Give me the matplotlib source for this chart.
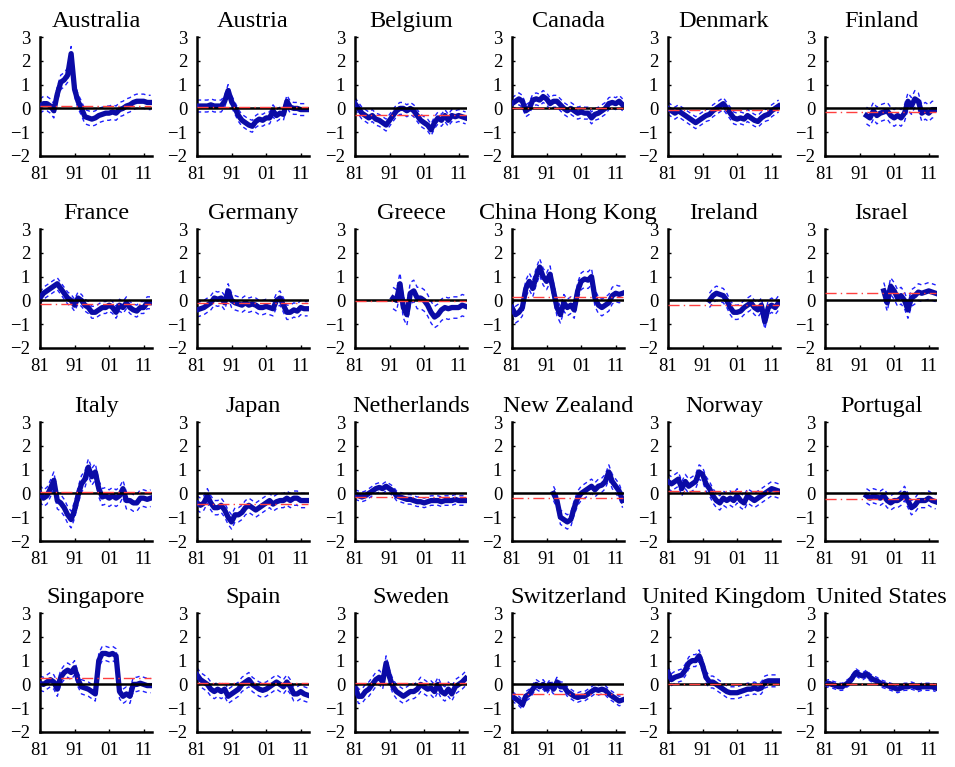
import matplotlib
matplotlib.use("Agg")
import matplotlib.pyplot as plt
import numpy as np

plt.rcParams["font.family"] = ["Liberation Serif", "DejaVu Serif"]
plt.rcParams["axes.unicode_minus"] = True

countries = [
    "Australia", "Austria", "Belgium", "Canada", "Denmark", "Finland",
    "France", "Germany", "Greece", "China Hong Kong", "Ireland", "Israel",
    "Italy", "Japan", "Netherlands", "New Zealand", "Norway", "Portugal",
    "Singapore", "Spain", "Sweden", "Switzerland", "United Kingdom", "United States",
]

# first year of each series (annual observations through 2013)
start_year = [
    1981, 1981, 1981, 1981, 1981, 1993,
    1981, 1981, 1992, 1981, 1993, 1998,
    1981, 1981, 1981, 1993, 1981, 1993,
    1981, 1981, 1981, 1981, 1981, 1981,
]

australia = [0.1, 0.2, 0.2, 0.1, -0.1, 0.6, 1.1, 1.2, 1.4, 2.3, 0.8, 0.3, 0.0, -0.35, -0.4, -0.45, -0.4,
             -0.3, -0.25, -0.2, -0.2, -0.15, -0.2, -0.05, 0.0, 0.1, 0.15, 0.25, 0.3, 0.3, 0.3, 0.25, 0.25]
austria = [0.1, 0.1, 0.1, 0.1, 0.15, 0.1, 0.1, 0.1, 0.3, 0.75, 0.3, 0.0, -0.3, -0.5, -0.6, -0.7, -0.75,
           -0.55, -0.45, -0.5, -0.4, -0.4, -0.1, -0.3, -0.2, -0.25, 0.3, 0.05, 0.0, 0.0, -0.05, -0.05, -0.05]
belgium = [0.2, 0.0, -0.2, -0.3, -0.4, -0.3, -0.45, -0.5, -0.6, -0.7, -0.5, -0.3, -0.1, 0.0, 0.0, -0.1, 0.0,
           -0.1, -0.3, -0.5, -0.6, -0.7, -0.9, -0.6, -0.4, -0.5, -0.3, -0.5, -0.3, -0.35, -0.3, -0.35, -0.4]
canada = [0.2, 0.3, 0.4, 0.3, -0.1, 0.0, 0.35, 0.4, 0.35, 0.5, 0.4, 0.2, 0.3, 0.3, 0.15, 0.0, -0.1,
          0.0, -0.1, -0.2, -0.15, -0.2, -0.2, -0.4, -0.25, -0.2, -0.1, 0.0, 0.2, 0.25, 0.2, 0.3, 0.15]
denmark = [0.0, -0.1, -0.2, -0.1, -0.2, -0.3, -0.4, -0.5, -0.6, -0.5, -0.4, -0.3, -0.25, -0.1, 0.0, 0.1, 0.2,
           0.0, -0.2, -0.4, -0.45, -0.4, -0.45, -0.3, -0.4, -0.5, -0.55, -0.4, -0.3, -0.25, -0.1, 0.0, 0.1]
finland = [-0.3, -0.4, -0.1, -0.3, -0.2, -0.15, -0.1, -0.3, -0.4, -0.3, -0.4, -0.2, 0.3, 0.1, 0.4, 0.3,
           -0.2, -0.1, -0.2, -0.05, -0.05]
france = [0.1, 0.3, 0.4, 0.5, 0.6, 0.7, 0.5, 0.3, 0.1, 0.0, -0.2, 0.1, 0.0, -0.2, -0.3, -0.5, -0.5,
          -0.4, -0.3, -0.3, -0.2, -0.3, -0.5, -0.2, -0.3, -0.1, -0.3, -0.4, -0.45, -0.3, -0.3, -0.1, -0.1]
germany = [-0.4, -0.35, -0.3, -0.2, -0.1, 0.1, 0.05, 0.1, -0.1, 0.4, 0.0, -0.1, -0.15, -0.2, -0.1, -0.2, -0.15,
           -0.2, -0.3, -0.3, -0.25, -0.3, -0.35, 0.0, 0.1, -0.2, -0.5, -0.5, -0.4, -0.45, -0.3, -0.35, -0.35]
greece = [0.1, 0.0, 0.7, -0.3, -0.6, 0.3, 0.4, 0.1, 0.1, 0.0, -0.2, -0.5, -0.7, -0.6, -0.4, -0.3,
          -0.35, -0.3, -0.3, -0.3, -0.2, -0.25]
hong_kong = [-0.3, -0.6, -0.5, -0.3, 0.5, 0.8, 0.5, 1.0, 1.4, 1.0, 0.8, 1.1, 0.4, -0.3, -0.6, -0.1, -0.3,
             -0.2, -0.4, 0.4, 0.8, 0.9, 0.85, 1.0, 0.1, -0.2, -0.3, -0.2, -0.1, 0.2, 0.3, 0.25, 0.3]
ireland = [0.0, 0.2, 0.3, 0.25, 0.2, 0.0, -0.3, -0.5, -0.5, -0.45, -0.3, -0.2, -0.1, -0.3, -0.4, -0.2,
           -0.9, -0.3, -0.2, -0.3, -0.1]
israel = [0.4, -0.1, 0.6, 0.4, 0.1, 0.2, 0.0, -0.4, 0.1, 0.2, 0.35, 0.3, 0.35, 0.4, 0.35, 0.3]
italy = [0.0, -0.2, -0.1, 0.2, 0.55, -0.3, -0.4, -0.6, -0.9, -1.1, -0.7, -0.1, 0.4, 0.6, 1.1, 0.7, 0.9,
         0.2, -0.15, -0.1, -0.2, -0.1, -0.2, -0.1, 0.2, -0.3, -0.3, -0.4, -0.4, -0.2, -0.2, -0.25, -0.2]
japan = [-0.4, -0.5, -0.4, -0.1, -0.4, -0.6, -0.6, -0.5, -0.7, -1.0, -1.2, -0.9, -0.9, -0.8, -0.6, -0.5, -0.6,
         -0.7, -0.6, -0.5, -0.4, -0.3, -0.45, -0.35, -0.3, -0.3, -0.2, -0.3, -0.2, -0.2, -0.3, -0.3, -0.3]
netherlands = [-0.05, -0.1, -0.15, -0.1, 0.0, 0.1, 0.2, 0.25, 0.2, 0.3, 0.2, 0.1, -0.1, -0.15, -0.2, -0.25, -0.25,
               -0.3, -0.35, -0.35, -0.4, -0.35, -0.3, -0.3, -0.3, -0.35, -0.3, -0.3, -0.3, -0.25, -0.3, -0.3, -0.3]
new_zealand = [0.0, -0.3, -1.0, -1.1, -1.2, -1.1, -0.6, -0.2, 0.0, 0.1, 0.2, 0.3, 0.15, 0.3, 0.35, 0.5,
               0.9, 0.5, 0.3, 0.1, -0.3]
norway = [0.5, 0.4, 0.5, 0.6, 0.2, 0.5, 0.3, 0.4, 0.5, 0.9, 0.8, 0.4, 0.2, -0.1, -0.3, -0.4, -0.2,
          -0.3, -0.2, -0.3, -0.1, -0.3, -0.4, -0.1, -0.2, -0.3, -0.2, -0.1, 0.0, 0.1, 0.2, 0.15, 0.1]
portugal = [-0.1, -0.2, -0.1, -0.15, -0.2, -0.1, -0.3, -0.4, -0.3, -0.3, -0.2, 0.0, -0.3, -0.6, -0.5, -0.3,
            -0.3, -0.3, -0.2, -0.3, -0.35]
singapore = [0.05, 0.0, 0.1, 0.2, 0.1, -0.2, 0.3, 0.5, 0.6, 0.5, 0.7, 0.2, -0.1, -0.15, -0.2, -0.3, -0.4,
             1.0, 1.3, 1.3, 1.25, 1.3, 1.2, -0.3, -0.5, -0.4, -0.5, 0.0, 0.0, 0.05, 0.0, -0.05, -0.05]
spain = [0.4, 0.2, 0.1, 0.0, -0.2, -0.3, -0.2, -0.3, -0.2, -0.5, -0.4, -0.3, -0.2, 0.0, 0.1, 0.2, 0.0,
         -0.1, -0.2, -0.25, -0.2, -0.1, 0.0, 0.1, 0.0, -0.1, 0.1, -0.1, -0.4, -0.4, -0.3, -0.4, -0.45]
sweden = [-0.1, -0.5, -0.5, -0.3, -0.2, 0.0, 0.2, 0.3, 0.1, 0.9, 0.3, -0.1, -0.3, -0.4, -0.5, -0.4, -0.3,
          -0.3, -0.2, 0.0, -0.1, -0.2, -0.15, -0.3, 0.0, -0.3, -0.4, -0.2, -0.4, -0.1, 0.0, 0.1, 0.25]
switzerland = [-0.5, -0.6, -0.7, -0.85, -0.5, -0.4, -0.2, 0.0, -0.1, 0.0, -0.2, 0.0, -0.2, 0.1, -0.1, -0.1, -0.3,
               -0.4, -0.5, -0.55, -0.5, -0.5, -0.4, -0.3, -0.2, -0.25, -0.2, -0.25, -0.4, -0.5, -0.6, -0.7, -0.65]
united_kingdom = [0.5, 0.2, 0.3, 0.35, 0.4, 0.6, 0.9, 1.0, 1.0, 1.2, 0.8, 0.3, 0.1, 0.1, 0.0, -0.1, -0.2,
                  -0.3, -0.35, -0.35, -0.35, -0.3, -0.25, -0.2, -0.2, -0.15, -0.2, -0.15, 0.1, 0.15, 0.15, 0.15, 0.15]
united_states = [0.0, 0.05, 0.0, -0.05, -0.1, -0.1, 0.0, 0.1, 0.3, 0.5, 0.4, 0.35, 0.45, 0.3, 0.2, 0.15, 0.05,
                 0.0, -0.05, -0.1, -0.15, -0.2, -0.15, -0.1, -0.1, -0.05, -0.1, -0.15, -0.1, -0.1, -0.1, -0.1, -0.15]

series = [
    australia, austria, belgium, canada, denmark, finland,
    france, germany, greece, hong_kong, ireland, israel,
    italy, japan, netherlands, new_zealand, norway, portugal,
    singapore, spain, sweden, switzerland, united_kingdom, united_states,
]

# standard error band half-width for each country
band_width = [
    0.3, 0.25, 0.25, 0.25, 0.25, 0.35,
    0.25, 0.3, 0.45, 0.35, 0.3, 0.35,
    0.35, 0.3, 0.2, 0.3, 0.3, 0.3,
    0.3, 0.3, 0.3, 0.2, 0.25, 0.15,
]

# sample mean of each series
mean_level = [
    0.1, 0.05, -0.27, 0.03, -0.05, -0.15,
    -0.17, -0.1, -0.02, 0.13, -0.18, 0.32,
    0.05, -0.43, -0.15, -0.18, 0.12, -0.25,
    0.27, 0.05, 0.05, -0.4, 0.03, 0.0,
]

x_ticks = [1981, 1991, 2001, 2011]
x_tick_labels = ["81", "91", "01", "11"]
y_ticks = [-2, -1, 0, 1, 2, 3]

W, H = 955, 767
col_left = [40, 197, 355, 512, 668, 825]
row_top = [37, 229, 422, 613]
ax_w, ax_h = 112, 119

fig = plt.figure(figsize=(W / 100, H / 100), dpi=100)

for i, name in enumerate(countries):
    r, c = divmod(i, 6)
    ax = fig.add_axes([col_left[c] / W, 1 - (row_top[r] + ax_h) / H, ax_w / W, ax_h / H])
    y = np.array(series[i], dtype=float)
    x = start_year[i] + np.arange(len(y))
    bw = band_width[i]

    ax.plot(x, y + bw, color="#1f1fff", lw=1.0, ls=(0, (3, 2.5)), zorder=2)
    ax.plot(x, y - bw, color="#1f1fff", lw=1.0, ls=(0, (3, 2.5)), zorder=2)
    ax.plot(x, y, color="#0b0ba6", lw=3.8, zorder=3, solid_joinstyle="round")
    ax.axhline(0, color="black", lw=1.8, zorder=4)
    ax.hlines(mean_level[i], 1981, x[-1], colors="#ff4040", lw=1.0,
              linestyles=(0, (8, 3, 1, 3)), zorder=5)

    ax.set_xlim(1981, 2013.4)
    ax.set_ylim(-2, 3)
    ax.set_xticks(x_ticks)
    ax.set_xticklabels(x_tick_labels)
    ax.set_yticks(y_ticks)
    for side in ("top", "right"):
        ax.spines[side].set_visible(False)
    for side in ("left", "bottom"):
        ax.spines[side].set_linewidth(1.8)
    ax.tick_params(direction="in", length=2, width=1, labelsize=13.5, pad=7)
    ax.set_title(name, fontsize=17.5, pad=7)

fig.savefig("out.png", dpi=100)
